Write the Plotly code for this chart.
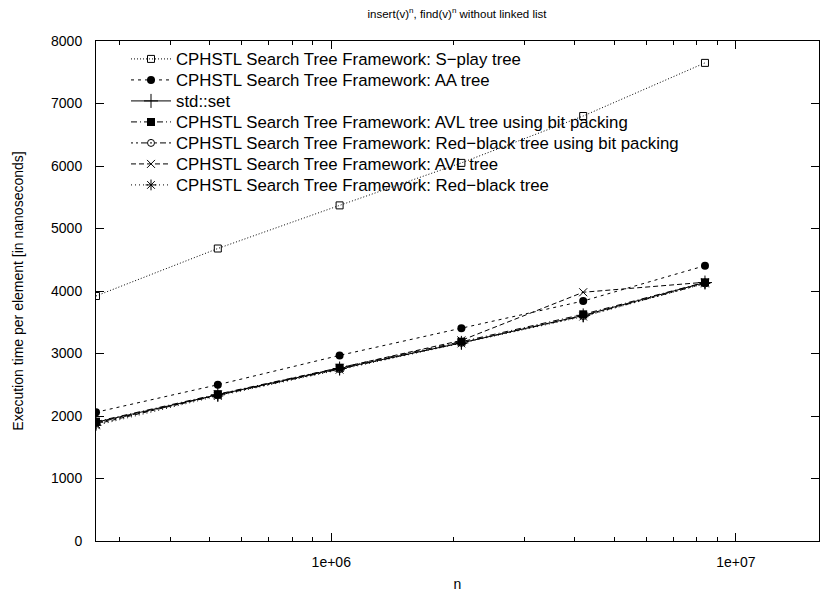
import plotly.graph_objects as go

n_values = [2**18, 2**19, 2**20, 2**21, 2**22, 2**23]

series_names = [
    "CPHSTL Search Tree Framework: S\u2212play tree",
    "CPHSTL Search Tree Framework: AA tree",
    "std::set",
    "CPHSTL Search Tree Framework: AVL tree using bit packing",
    "CPHSTL Search Tree Framework: Red\u2212black tree using bit packing",
    "CPHSTL Search Tree Framework: AVL tree",
    "CPHSTL Search Tree Framework: Red\u2212black tree",
]

splay_tree = [3920, 4680, 5370, 6050, 6800, 7650]
aa_tree = [2060, 2500, 2970, 3405, 3840, 4405]
std_set = [1900, 2340, 2760, 3170, 3610, 4135]
avl_bitpack = [1910, 2350, 2773, 3189, 3627, 4139]
rb_bitpack = [1890, 2330, 2750, 3170, 3600, 4120]
avl_tree = [1870, 2340, 2770, 3210, 3980, 4140]
rb_tree = [1850, 2320, 2740, 3160, 3590, 4120]

series_values = [splay_tree, aa_tree, std_set, avl_bitpack, rb_bitpack, avl_tree, rb_tree]

x_tick_vals = [1e6, 1e7]
x_tick_text = ["1e+06", "1e+07"]
x_minor_vals = [3e5, 4e5, 5e5, 6e5, 7e5, 8e5, 9e5,
                2e6, 3e6, 4e6, 5e6, 6e6, 7e6, 8e6, 9e6]
y_tick_vals = list(range(0, 8001, 1000))

styles = [
    dict(dash="1px,2px", symbol="square-open", size=7, mlw=1),
    dict(dash="3px,4px", symbol="circle", size=8, mlw=0),
    dict(dash="solid", symbol="cross-thin", size=10, mlw=1),
    dict(dash="6px,3px,1px,3px", symbol="square", size=8, mlw=0),
    dict(dash="2px,3px,2px,3px,6px,3px", symbol="circle-open", size=7, mlw=1),
    dict(dash="5px,3px", symbol="x-thin", size=8, mlw=1),
    dict(dash="1px,3px", symbol="asterisk-open", size=9, mlw=1),
]

font = "Liberation Sans, Arial, sans-serif"
PLOT_L, PLOT_T, PLOT_W, PLOT_H = 96, 41, 723, 500
legend_rows_px = [59, 80, 101, 122, 143, 164, 185]

fig = go.Figure()
layout_legends = {}
for i, (name, vals, st) in enumerate(zip(series_names, series_values, styles)):
    key = "legend" if i == 0 else f"legend{i+1}"
    fig.add_trace(go.Scatter(
        x=n_values, y=vals, name=name, mode="lines+markers", legend=key,
        line=dict(color="black", width=1, dash=st["dash"]),
        marker=dict(symbol=st["symbol"], size=st["size"], color="black",
                    line=dict(color="black", width=st["mlw"])),
    ))
    layout_legends[key] = dict(
        x=(126 - PLOT_L) / PLOT_W, y=1 - (legend_rows_px[i] - PLOT_T) / PLOT_H,
        xanchor="left", yanchor="middle",
        bgcolor="rgba(255,255,255,0)", borderwidth=0,
        font=dict(size=16.8, family=font, color="black"),
        itemwidth=40,
    )

fig.update_layout(
    width=820, height=597,
    margin=dict(l=PLOT_L, r=820 - PLOT_L - PLOT_W, t=PLOT_T, b=597 - PLOT_T - PLOT_H, autoexpand=False),
    paper_bgcolor="white", plot_bgcolor="white",
    font=dict(family=font, size=14, color="black"),
    title=dict(text="insert(v)<sup>n</sup>, find(v)<sup>n</sup> without linked list",
               x=457 / 820, xanchor="center", y=1 - 14 / 597, yanchor="middle",
               font=dict(size=11.5, family=font, color="black")),
    showlegend=True,
    **layout_legends,
)
fig.update_xaxes(
    type="log", range=[5.4185, 7.2055], autorange=False, automargin=False,
    tickvals=x_tick_vals, ticktext=x_tick_text,
    ticks="inside", ticklen=8, tickcolor="black", tickwidth=1, ticklabelstandoff=8,
    minor=dict(tickvals=x_minor_vals, ticks="inside", ticklen=4, tickcolor="black",
               tickwidth=1, showgrid=False),
    showline=True, linecolor="black", linewidth=1, mirror="ticks",
    showgrid=False, zeroline=False,
    title=dict(text="n", standoff=10, font=dict(size=14)),
)
fig.update_yaxes(
    range=[0, 8000], autorange=False, automargin=False, tickvals=y_tick_vals,
    ticks="inside", ticklen=8, tickcolor="black", tickwidth=1,
    showline=True, linecolor="black", linewidth=1, mirror="ticks",
    showgrid=False, zeroline=False, ticklabelstandoff=10,
    title=dict(text="Execution time per element [in nanoseconds]", standoff=24, font=dict(size=14)),
)

fig.write_html("out.html", config={"displayModeBar": False},
               post_script="document.body.style.margin='0';")
